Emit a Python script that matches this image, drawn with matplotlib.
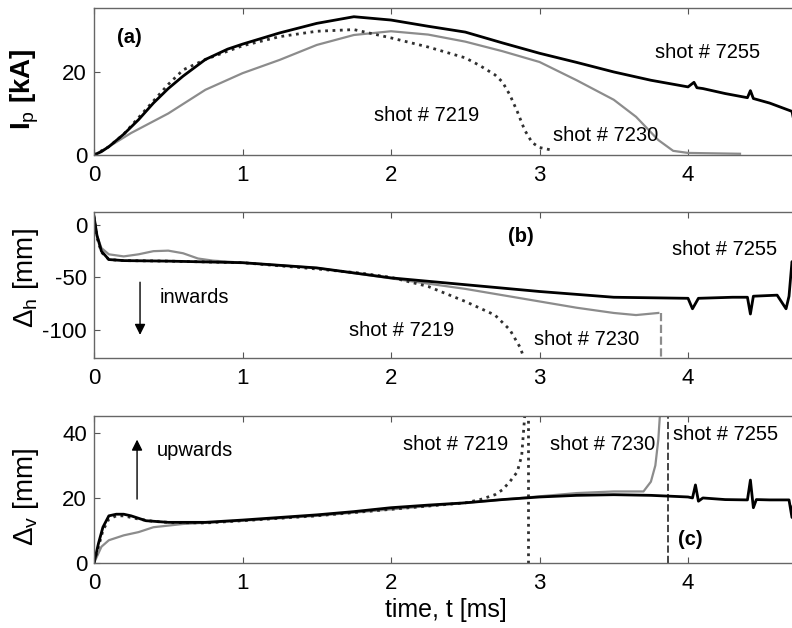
import matplotlib
matplotlib.use('Agg')
import matplotlib.pyplot as plt

plt.rcParams['font.family'] = ['Liberation Sans', 'DejaVu Sans']
plt.rcParams['mathtext.fontset'] = 'custom'
plt.rcParams['mathtext.rm'] = 'Liberation Sans'
plt.rcParams['mathtext.it'] = 'Liberation Sans:italic'
plt.rcParams['axes.unicode_minus'] = False

# ---- (a) plasma current Ip [kA] ----
t_ip_7255 = [0, 0.05, 0.1, 0.2, 0.3, 0.4, 0.5, 0.6, 0.75, 0.9, 1.0, 1.25, 1.5, 1.75, 2.0, 2.25, 2.5,
             2.75, 3.0, 3.25, 3.5, 3.75, 4.0, 4.04, 4.06, 4.1, 4.25, 4.4, 4.42, 4.44, 4.55, 4.7, 4.72, 4.75]
ip_7255 = [0, 0.8, 2, 5, 8.5, 12.5, 16, 19, 23, 25.5, 26.7, 29.4, 31.7, 33.3, 32.5, 31, 29.6,
           27, 24.5, 22.3, 20, 18, 16.4, 17.5, 16.2, 16, 14.8, 13.8, 15.5, 13.6, 12.5, 10.5, 7, 8]
t_ip_7219 = [0, 0.1, 0.2, 0.3, 0.4, 0.5, 0.6, 0.75, 0.9, 1.0, 1.25, 1.5, 1.75, 2.0, 2.25, 2.5, 2.6,
             2.7, 2.75, 2.8, 2.85, 2.9, 2.95, 3.0, 3.08]
ip_7219 = [0, 2, 5, 9, 13, 17, 20.5, 23, 25, 26.3, 28.5, 29.8, 30.2, 28.2, 26, 23.4, 21.5,
           19.3, 17.6, 14.5, 10.5, 6, 3, 1.8, 1.2]
t_ip_7230 = [0, 0.1, 0.25, 0.5, 0.75, 1.0, 1.25, 1.5, 1.75, 2.0, 2.25, 2.5, 2.75, 3.0, 3.25, 3.5,
             3.65, 3.8, 3.9, 4.0, 4.35]
ip_7230 = [0, 2, 5.3, 10, 15.7, 19.7, 22.9, 26.5, 28.9, 29.8, 29, 27.3, 25, 22.4, 18, 13.3,
           9.2, 3.6, 1, 0.5, 0.3]

# ---- (b) horizontal displacement [mm] ----
t_dh_7255 = [0, 0.02, 0.05, 0.1, 0.2, 0.5, 1.0, 1.5, 2.0, 2.5, 3.0, 3.5, 4.0, 4.03, 4.05, 4.07,
             4.3, 4.4, 4.42, 4.44, 4.6, 4.66, 4.68, 4.7, 4.72, 4.75]
dh_7255 = [8, -10, -25, -33, -34, -34.5, -36, -41, -50.5, -57, -63.5, -69, -70, -80, -75, -70,
           -69, -69, -85, -68, -67, -80, -68, -35, -40, -45]
t_dh_7230 = [0, 0.02, 0.05, 0.1, 0.2, 0.3, 0.4, 0.5, 0.6, 0.7, 0.8, 1.0, 1.5, 2.0, 2.25, 2.5,
             2.75, 3.0, 3.25, 3.5, 3.65, 3.8]
dh_7230 = [8, -10, -22, -28, -30, -28, -25, -24.5, -27, -32, -34, -36, -41, -51, -56, -61,
           -67, -73, -79, -84, -86, -84]
t_dh_7219 = [0, 0.02, 0.05, 0.1, 0.2, 0.5, 1.0, 1.5, 1.8, 2.0, 2.25, 2.5, 2.7, 2.8, 2.87, 2.89]
dh_7219 = [8, -12, -26, -33, -34, -34.5, -36, -42, -46, -50, -58.7, -73, -86, -100, -117, -125]
t_end_7230 = 3.815
t_end_7219 = 2.92
t_end_7255_c = 3.865

# ---- (c) vertical displacement [mm] ----
t_dv_7255 = [0, 0.03, 0.06, 0.1, 0.15, 0.2, 0.25, 0.35, 0.5, 0.75, 1.0, 1.25, 1.5, 1.75, 2.0,
             2.25, 2.5, 2.75, 3.0, 3.25, 3.5, 3.75, 4.0, 4.03, 4.05, 4.07, 4.1, 4.25, 4.4, 4.42,
             4.44, 4.46, 4.55, 4.68, 4.7, 4.72, 4.75]
dv_7255 = [0, 6, 11, 14.5, 15, 15, 14.5, 13, 12.5, 12.5, 13.2, 14, 14.8, 15.8, 17,
           17.8, 18.5, 19.5, 20.3, 20.8, 21, 20.8, 20.3, 20, 24, 19, 20, 19.5, 19.4, 25.5,
           17, 19.5, 19.4, 19.4, 14, 24, 19]
t_dv_7230 = [0, 0.05, 0.1, 0.2, 0.3, 0.4, 0.5, 0.6, 0.8, 1.0, 1.5, 2.0, 2.5, 2.75, 3.0, 3.25,
             3.5, 3.7, 3.75, 3.78, 3.8, 3.81]
dv_7230 = [0, 5, 7, 8.5, 9.5, 11, 11.5, 12, 12.5, 13, 14.5, 16.5, 18.5, 19.5, 20.5, 21.5,
           22, 22, 25, 30, 38, 45]
t_dv_7219 = [0, 0.03, 0.06, 0.1, 0.15, 0.2, 0.3, 0.4, 0.5, 0.75, 1.0, 1.5, 2.0, 2.25, 2.5, 2.6,
             2.7, 2.75, 2.8, 2.85, 2.88, 2.9]
dv_7219 = [0, 5, 10, 13.5, 14.5, 14.5, 13.5, 12.8, 12.5, 12.3, 13, 14.5, 16.5, 17.5, 18.5, 19.5,
           21, 22.5, 25, 28, 33, 45]

c_7255 = 'black'
c_7230 = '#8c8c8c'
c_7219 = '#303030'

fig = plt.figure(figsize=(7.92, 6.28), dpi=100)
W = (800 - 94) / 792
axa = fig.add_axes([94 / 792, 1 - 155 / 628, W, 147 / 628])
axb = fig.add_axes([94 / 792, 1 - 358 / 628, W, 146 / 628])
axc = fig.add_axes([94 / 792, 1 - 563 / 628, W, 147 / 628])

for ax in (axa, axb, axc):
    ax.set_xlim(0, 4.754)
    ax.set_xticks([0, 1, 2, 3, 4])
    ax.tick_params(direction='in', top=True, right=True, length=4, width=0.8,
                   labelsize=16, pad=5, color='#555555')
    ax.tick_params(axis='x', pad=7)
    for s in ax.spines.values():
        s.set_color('#666666')
        s.set_linewidth(1.0)

# (a)
axa.plot(t_ip_7230, ip_7230, color=c_7230, lw=1.6)
axa.plot(t_ip_7219, ip_7219, color=c_7219, lw=2.0, ls=':')
axa.plot(t_ip_7255, ip_7255, color=c_7255, lw=2.0)
axa.set_ylim(0, 35.4)
axa.set_yticks([0, 20])
axa.set_ylabel('I$_\\mathrm{p}$ [kA]', fontsize=20, fontweight='bold')
axa.yaxis.set_label_coords(-0.075, 0.45)
axa.text(0.155, 28.4, '(a)', fontsize=14.5, fontweight='bold', va='center')
axa.text(3.78, 24.8, 'shot # 7255', fontsize=14.5, va='center')
axa.text(1.885, 9.4, 'shot # 7219', fontsize=14.5, va='center')
axa.text(3.09, 4.6, 'shot # 7230', fontsize=14.5, va='center')

# (b)
axb.plot(t_dh_7230, dh_7230, color=c_7230, lw=1.6)
axb.plot([t_end_7230, t_end_7230], [dh_7230[-1], -127], color=c_7230, lw=1.6, ls='--')
axb.plot(t_dh_7219, dh_7219, color=c_7219, lw=2.0, ls=':')
axb.plot(t_dh_7255, dh_7255, color=c_7255, lw=2.0)
axb.set_ylim(-127, 12.4)
axb.set_yticks([-100, -50, 0])
axb.set_ylabel('Δ$_\\mathrm{h}$ [mm]', fontsize=20)
axb.yaxis.set_label_coords(-0.075, 0.55)
axb.text(2.79, -11.4, '(b)', fontsize=14.5, fontweight='bold', va='center')
axb.text(3.89, -23.8, 'shot # 7255', fontsize=14.5, va='center')
axb.text(1.72, -101, 'shot # 7219', fontsize=14.5, va='center')
axb.text(2.96, -109.5, 'shot # 7230', fontsize=14.5, va='center')
axb.text(0.445, -69.5, 'inwards', fontsize=14.5, va='center')
axb.annotate('', xy=(0.31, -107.6), xytext=(0.31, -52),
             arrowprops=dict(arrowstyle='-|>', color='black', lw=1.0, mutation_scale=16))

# (c)
axc.plot(t_dv_7230, dv_7230, color=c_7230, lw=1.6)
axc.plot(t_dv_7219, dv_7219, color=c_7219, lw=2.0, ls=':')
axc.plot([t_end_7219, t_end_7219], [0, 45.2], color=c_7219, lw=2.0, ls=':')
axc.plot([t_end_7255_c, t_end_7255_c], [0, 45.2], color='#444444', lw=1.4, ls='--')
axc.plot(t_dv_7255, dv_7255, color=c_7255, lw=2.0)
axc.set_ylim(0, 45.2)
axc.set_yticks([0, 20, 40])
axc.set_ylabel('Δ$_\\mathrm{v}$ [mm]', fontsize=20)
axc.yaxis.set_label_coords(-0.075, 0.45)
axc.set_xlabel('time, t [ms]', fontsize=18, labelpad=2)
axc.xaxis.set_label_coords((446 - 94) / 706, -0.24)
axc.text(3.93, 7.1, '(c)', fontsize=14.5, fontweight='bold', va='center')
axc.text(2.08, 36.3, 'shot # 7219', fontsize=14.5, va='center')
axc.text(3.07, 36.3, 'shot # 7230', fontsize=14.5, va='center')
axc.text(3.9, 39.4, 'shot # 7255', fontsize=14.5, va='center')
axc.text(0.424, 34.5, 'upwards', fontsize=14.5, va='center')
axc.annotate('', xy=(0.29, 38.8), xytext=(0.29, 18.8),
             arrowprops=dict(arrowstyle='-|>', color='black', lw=1.0, mutation_scale=16))

fig.savefig('out.png', dpi=100)
